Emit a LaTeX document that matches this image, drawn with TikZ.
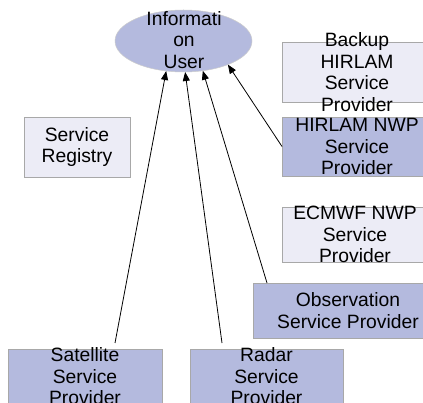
\documentclass[tikz,border=0pt]{standalone}
\usepackage{fontspec}
\setmainfont{Liberation Sans}
\usetikzlibrary{arrows.meta,shapes.geometric}
\definecolor{provfill}{HTML}{B4BADE}
\definecolor{idlefill}{HTML}{ECECF6}
\definecolor{boxline}{HTML}{A8A8A8}
\begin{document}
\begin{tikzpicture}[x=1pt,y=-1pt,
  box/.style={draw=boxline,line width=0.7pt,inner sep=0pt,outer sep=0pt},
  active/.style={box,fill=provfill},
  idle/.style={box,fill=idlefill},
  txt/.style={align=center,inner sep=0pt,font=\fontsize{19.3}{21.5}\selectfont},
  feed/.style={-{Triangle[length=9pt,width=7pt]},line width=0.8pt,black}]
\useasboundingbox (0,0) rectangle (423,403);
\fill[white] (0,0) rectangle (423,403);
\clip (0,0) rectangle (423,403);

% right column of providers
\node[idle,   minimum width=150, minimum height=60] (backup) at (357,72) {};
\node[txt] (backupT) at (backup) {Backup\\HIRLAM\\Service\\Provider};
\node[active, minimum width=150, minimum height=59] (hirlam) at (357,146.5) {};
\node[txt] (hirlamT) at (hirlam) {HIRLAM NWP\\Service\\Provider};
\node[idle,   minimum width=146, minimum height=55] (ecmwf) at (355,234.5) {};
\node[txt] (ecmwfT) at (ecmwf) {ECMWF NWP\\Service\\Provider};
\node[active, minimum width=190, minimum height=55] (obs) at (348,310.5) {};
\node[txt] (obsT) at (obs) {Observation\\Service Provider};

% registry
\node[idle, minimum width=106, minimum height=60] (registry) at (77,147) {};
\node[txt] (registryT) at (registry) {Service\\Registry};

% bottom row
\node[active, minimum width=154, minimum height=55] (sat) at (85,376.5) {};
\node[txt] (satT) at (sat) {Satellite\\Service\\Provider};
\node[active, minimum width=153, minimum height=55] (radar) at (266.5,376.5) {};
\node[txt] (radarT) at (radar) {Radar\\Service\\Provider};

% information user
\node[ellipse, fill=provfill, draw=black!20, line width=0.5pt,
      minimum width=137, minimum height=62, inner sep=0pt, outer sep=0pt] (user) at (183.5,41) {};
\node[txt] (userT) at (184,40) {Informati\\on\\User};

% data feeds
\draw[feed] ([xshift=30pt,yshift=6pt]sat.north) -- (user.240);
\draw[feed] ([xshift=-44.5pt,yshift=6pt]radar.north) -- (user.273);
\draw[feed] ([xshift=14pt]obs.north west) -- (user.303);
\draw[feed] (hirlam.west) -- (user.332);
\end{tikzpicture}
\end{document}
